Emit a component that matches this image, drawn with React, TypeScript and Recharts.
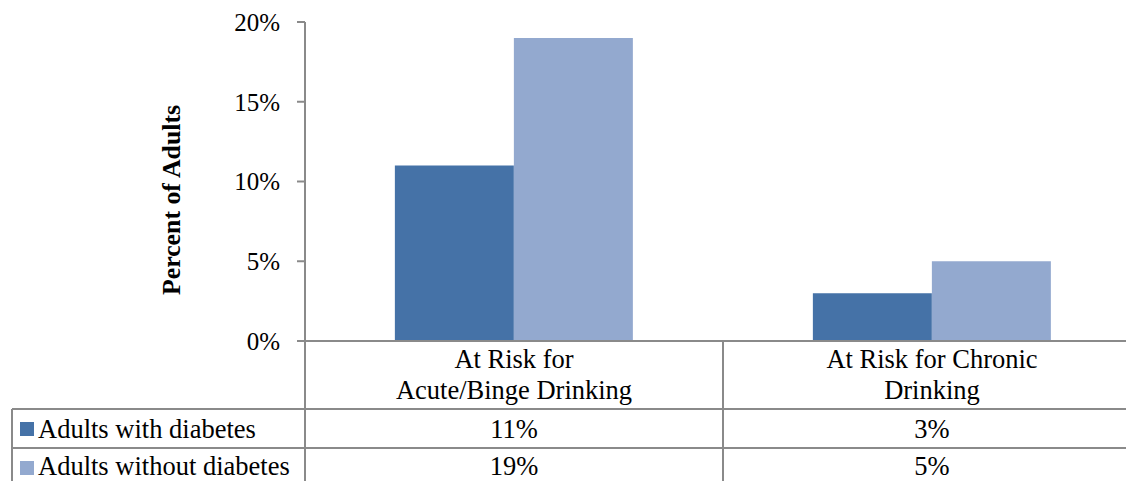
import React from 'react';
import { BarChart, Bar, XAxis, YAxis } from 'recharts';

const categories = ['At Risk for Acute/Binge Drinking', 'At Risk for Chronic Drinking'];
const categoryLines = [
  ['At Risk for', 'Acute/Binge Drinking'],
  ['At Risk for Chronic', 'Drinking'],
];
const seriesNames = ['Adults with diabetes', 'Adults without diabetes'];
const withDiabetes = [11, 3];
const withoutDiabetes = [19, 5];
const yTicks = [0, 5, 10, 15, 20];

const COLORS = ['#4572A7', '#93A9CF'];
const GRID = '#8A8A8A';
const FONT = 'Liberation Serif, Times New Roman, serif';
const FS = 25;
const FS_TEXT = 26.5;

const CHART_W = 1160;
const CHART_H = 481;
const Y_AXIS_W = 100;
const MARGIN = { top: 22, right: 19, bottom: 0, left: 205 };
const PLOT_W = CHART_W - MARGIN.left - Y_AXIS_W - MARGIN.right;
const LABEL_H = 68;
const ROW_H = 39;
const TABLE_LEFT = 12;
const ROW_TEXT_SHIFT = [0, -2];

const data = categories.map((c, i) => ({
  name: c,
  s0: withDiabetes[i],
  s1: withoutDiabetes[i],
}));
const seriesValues = [withDiabetes, withoutDiabetes];

const txt = { fontFamily: FONT, fontSize: FS_TEXT, fill: '#000' };

const TableTick = (props: any) => {
  const { x, y, index } = props;
  const half = PLOT_W / categories.length / 2;
  const left = x - half;
  const right = x + half;
  const rowTop = y + LABEL_H;
  const bottom = y + LABEL_H + ROW_H * 2 + 20;
  const lines = categoryLines[index] || [categories[index]];
  return (
    <g>
      {index === 0 && (
        <g>
          <line x1={left} y1={y} x2={left} y2={bottom} stroke={GRID} strokeWidth={2} />
          <line x1={TABLE_LEFT} y1={rowTop} x2={TABLE_LEFT} y2={bottom} stroke={GRID} strokeWidth={2} />
          {[0, 1].map((r) => (
            <line key={r} x1={TABLE_LEFT} y1={rowTop + r * ROW_H} x2={left} y2={rowTop + r * ROW_H} stroke={GRID} strokeWidth={2} />
          ))}
          {seriesNames.map((s, r) => (
            <g key={s}>
              <rect x={TABLE_LEFT + 8} y={rowTop + r * ROW_H + 13} width={14} height={14} fill={COLORS[r]} />
              <text x={TABLE_LEFT + 26} y={rowTop + r * ROW_H + ROW_H / 2 + ROW_TEXT_SHIFT[r]} dy="0.35em" style={txt}>
                {s}
              </text>
            </g>
          ))}
        </g>
      )}
      <line x1={right} y1={y} x2={right} y2={bottom} stroke={GRID} strokeWidth={2} />
      {[0, 1].map((r) => (
        <line key={r} x1={left} y1={rowTop + r * ROW_H} x2={right} y2={rowTop + r * ROW_H} stroke={GRID} strokeWidth={2} />
      ))}
      {lines.map((l, i) => (
        <text key={i} x={x} y={y + 18 + i * 31} dy="0.35em" textAnchor="middle" style={txt}>
          {l}
        </text>
      ))}
      {seriesValues.map((vals, r) => (
        <text key={r} x={x} y={rowTop + r * ROW_H + ROW_H / 2 + ROW_TEXT_SHIFT[r]} dy="0.35em" textAnchor="middle" style={txt}>
          {`${vals[index]}%`}
        </text>
      ))}
    </g>
  );
};

const YLabel = (props: any) => {
  const { viewBox } = props;
  const cx = viewBox.x - 34;
  const cy = 200;
  return (
    <text
      x={cx}
      y={cy}
      transform={`rotate(-90, ${cx}, ${cy})`}
      textAnchor="middle"
      dominantBaseline="central"
      style={{ ...txt, fontSize: 25.8, fontWeight: 'bold' }}
    >
      Percent of Adults
    </text>
  );
};

export default function App() {
  return (
    <div style={{ position: 'absolute', left: 0, top: 0, width: 1126, height: 481, overflow: 'hidden', background: '#fff', fontFamily: FONT }}>
      <BarChart
        width={CHART_W}
        height={CHART_H}
        data={data}
        margin={MARGIN}
        barCategoryGap="21.5%"
        barGap={0}
        style={{ fontFamily: FONT }}
      >
        <XAxis
          dataKey="name"
          interval={0}
          height={CHART_H - MARGIN.top - 319}
          tickLine={false}
          tickSize={0}
          tickMargin={0}
          axisLine={{ stroke: GRID, strokeWidth: 2 }}
          tick={<TableTick />}
        />
        <YAxis
          width={Y_AXIS_W}
          domain={[0, 20]}
          ticks={yTicks}
          interval={0}
          tickFormatter={(v: number) => `${v}%`}
          axisLine={{ stroke: GRID, strokeWidth: 2 }}
          tickLine={{ stroke: GRID, strokeWidth: 2 }}
          tickSize={8}
          tickMargin={17}
          tick={{ fontSize: FS, fontFamily: FONT, fill: '#000', style: { fontFamily: FONT } }}
          label={<YLabel />}
        />
        <Bar dataKey="s0" name={seriesNames[0]} fill={COLORS[0]} isAnimationActive={false} />
        <Bar dataKey="s1" name={seriesNames[1]} fill={COLORS[1]} isAnimationActive={false} />
      </BarChart>
    </div>
  );
}
